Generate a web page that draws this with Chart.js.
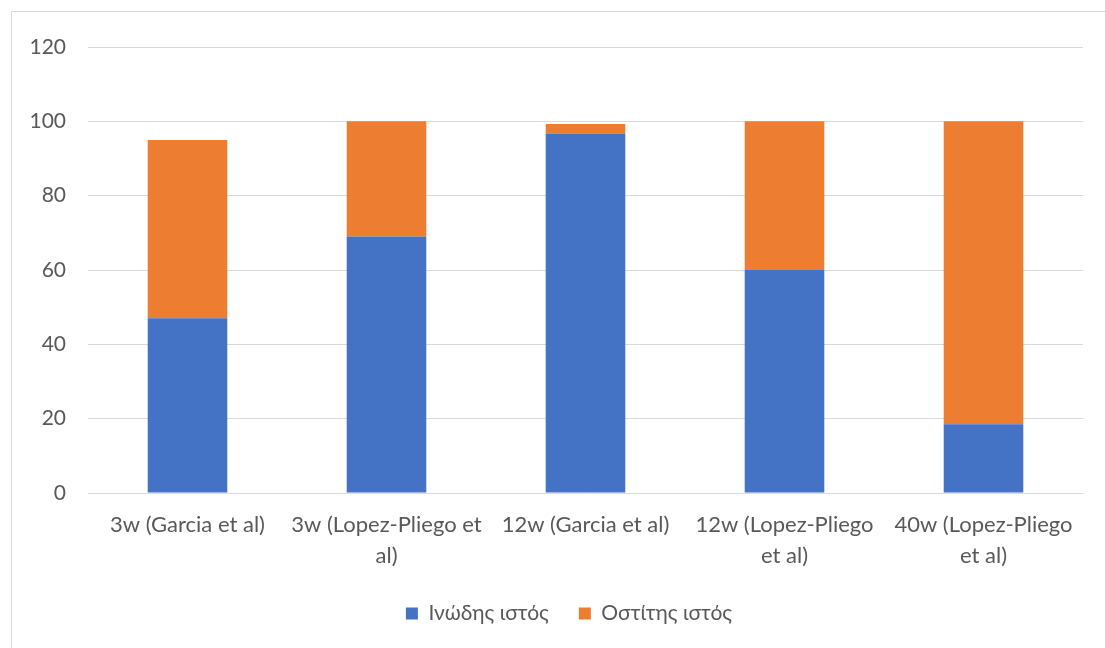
<!DOCTYPE html>
<html>
<head>
<meta charset="utf-8">
<script src="https://cdn.jsdelivr.net/npm/chart.js@4"></script>
<style>
  html, body { margin: 0; padding: 0; background: #fff; }
  #wrap { width: 1105px; height: 648px; position: relative; }
</style>
</head>
<body>
<div id="wrap"><canvas id="c" width="1105" height="648"></canvas></div>
<script>
// Categories (study / time point)
const categories = [
  ['3w (Garcia et al)'],
  ['3w (Lopez-Pliego et', 'al)'],
  ['12w (Garcia et al)'],
  ['12w (Lopez-Pliego', 'et al)'],
  ['40w (Lopez-Pliego', 'et al)']
];
// Percentage of fibrous tissue
const fibrous = [47, 69, 96.7, 60, 18.5];
// Percentage of bone tissue
const bone = [48, 31, 2.6, 40, 81.5];
const seriesNames = ['Ινώδης ιστός', 'Οστίτης ιστός'];
const yTicks = { min: 0, max: 120, step: 20 };

const FONT = 'Lato, "Open Sans", "DejaVu Sans", sans-serif';
const TEXT = '#595959';

// Thin frame around the whole chart
const framePlugin = {
  id: 'frame',
  beforeDraw(chart) {
    const ctx = chart.ctx;
    ctx.save();
    ctx.fillStyle = '#ffffff';
    ctx.fillRect(0, 0, chart.width, chart.height);
    ctx.strokeStyle = '#D9D9D9';
    ctx.lineWidth = 1;
    ctx.strokeRect(11.5, 11.5, chart.width, chart.height);
    ctx.restore();
  }
};

// Place the legend just under the category labels, centred on the frame
const legendPlacePlugin = {
  id: 'legendPlace',
  afterLayout(chart) {
    const lg = chart.legend;
    if (!lg) return;
    const h = lg.bottom - lg.top;
    const top = chart.chartArea.bottom + 80;
    lg.top = top; lg.bottom = top + h;
    const dx = 569 - (lg.left + lg.right) / 2;
    lg.left += dx; lg.right += dx;
  }
};

new Chart(document.getElementById('c'), {
  type: 'bar',
  data: {
    labels: categories,
    datasets: [
      { label: seriesNames[0], data: fibrous, backgroundColor: '#4472C4', borderWidth: 0 },
      { label: seriesNames[1], data: bone, backgroundColor: '#ED7D31', borderWidth: 0 }
    ]
  },
  options: {
    responsive: false,
    animation: false,
    events: [],
    layout: { padding: { left: 0, right: 22, top: 47, bottom: 9 } },
    datasets: { bar: { barPercentage: 0.4, categoryPercentage: 1.0 } },
    scales: {
      x: {
        stacked: true,
        afterFit(scale) { scale.height = 85; },
        grid: { display: false, drawTicks: false },
        border: { display: false },
        ticks: {
          color: TEXT, padding: 17, maxRotation: 0, autoSkip: false,
          font: { family: FONT, size: 22, lineHeight: 1.38 }
        }
      },
      y: {
        stacked: true,
        min: yTicks.min, max: yTicks.max,
        afterFit(scale) { scale.width = 88; },
        grid: { color: '#D9D9D9', lineWidth: 1, drawTicks: false },
        border: { display: false },
        ticks: {
          stepSize: yTicks.step, color: TEXT, padding: 22,
          font: { family: FONT, size: 21 }
        }
      }
    },
    plugins: {
      legend: {
        position: 'bottom',
        labels: {
          color: TEXT, boxWidth: 12, boxHeight: 12, padding: 30,
          font: { family: FONT, size: 21 }
        }
      },
      tooltip: { enabled: false }
    }
  },
  plugins: [framePlugin, legendPlacePlugin]
});
</script>
</body>
</html>
